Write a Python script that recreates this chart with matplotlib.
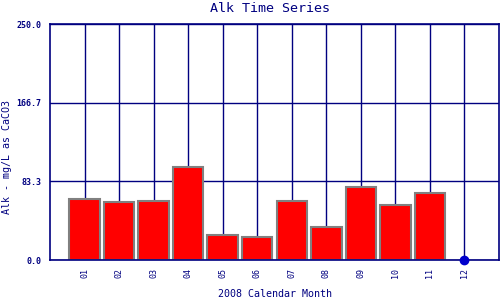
import matplotlib
matplotlib.use('Agg')
import matplotlib.pyplot as plt

navy = '#000080'

months = ['01', '02', '03', '04', '05', '06', '07', '08', '09', '10', '11', '12']
alk = [64.3, 61.1, 62.2, 98.5, 26.1, 24.0, 62.2, 34.6, 77.0, 57.9, 70.6, None]
missing = [0.0]
yticks = [0.0, 83.3, 166.7, 250.0]

plt.rcParams['font.family'] = ['DejaVu Sans Mono']

fig = plt.figure(figsize=(5, 3), dpi=100)
ax = fig.add_axes([0.1, 0.1333, 0.898, 0.7867])

pos = list(range(1, len(months) + 1))
bar_x = [p for p, v in zip(pos, alk) if v is not None]
bar_h = [v for v in alk if v is not None]
miss_x = [p for p, v in zip(pos, alk) if v is None]

ax.set_axisbelow(True)
ax.grid(True, color=navy, linewidth=1)
ax.bar(bar_x, bar_h, width=0.88, color='#ff0000', edgecolor='#808080', linewidth=1.5, zorder=2)
ax.plot(miss_x, missing, 'o', color='#0000cc', markersize=6, zorder=3, clip_on=False)

ax.set_xlim(0, 13)
ax.set_ylim(0, 250)
ax.set_xticks(pos)
ax.set_xticklabels(months, rotation=90, fontsize=6, color=navy)
ax.set_yticks(yticks)
ax.set_yticklabels(['%.1f' % t for t in yticks], fontsize=6, color=navy, fontweight='bold')
ax.tick_params(length=0, pad=6)

for s in ax.spines.values():
    s.set_color(navy)
    s.set_linewidth(1.2)

fig.text(0.54, 0.97, 'Alk Time Series', fontsize=9.6, color=navy, ha='center', va='center')
fig.text(0.549, 0.02, '2008 Calendar Month', fontsize=7.2, color=navy, ha='center', va='center')
fig.text(0.014, 0.477, 'Alk - mg/L as CaCO3', fontsize=7.2, color=navy, ha='center', va='center',
         rotation=90)

fig.savefig('out.png', dpi=100)
